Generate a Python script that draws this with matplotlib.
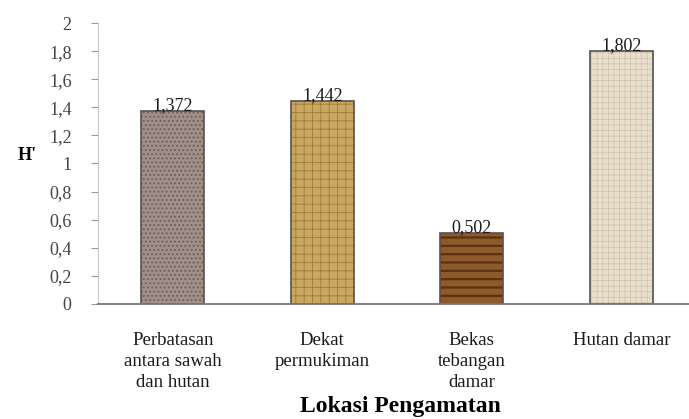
import matplotlib
matplotlib.use("Agg")
import matplotlib.pyplot as plt
import numpy as np

categories = ["Perbatasan\nantara sawah\ndan hutan", "Dekat\npermukiman", "Bekas\ntebangan\ndamar", "Hutan damar"]
values = [1.372, 1.442, 0.502, 1.802]
value_labels = ["1,372", "1,442", "0,502", "1,802"]
yticks = [0, 0.2, 0.4, 0.6, 0.8, 1.0, 1.2, 1.4, 1.6, 1.8, 2.0]
ytick_labels = ["0", "0,2", "0,4", "0,6", "0,8", "1", "1,2", "1,4", "1,6", "1,8", "2"]

face_colors = ["#a09089", "#caa862", "#8f5a2a", "#e9dfcd"]
hatches = ["....", "++", "--", "+++"]
hatch_colors = ["#6a5c55", "#9e7c36", "#5a3212", "#cfc2a8"]
hatch_widths = [0.8, 0.6, 1.6, 0.5]

plt.rcParams["font.family"] = ["Liberation Serif", "DejaVu Serif"]

fig = plt.figure(figsize=(6.89, 4.19), dpi=100)
ax = fig.add_axes([0.1422, 0.2745, 0.868, 0.6706])

x = np.arange(len(categories))
for i in range(len(categories)):
    b = ax.bar(x[i], values[i], width=0.42, color=face_colors[i], edgecolor="#5a5050",
               linewidth=1.2, hatch=hatches[i])
    p = b[0]
    p._hatch_color = matplotlib.colors.to_rgba(hatch_colors[i])
    if hasattr(p, "set_hatch_linewidth"):
        p.set_hatch_linewidth(hatch_widths[i])
    ax.text(x[i], values[i] + 0.008, value_labels[i], ha="center", va="baseline",
            fontsize=13, color="#1a1a1a")

ax.set_xlim(-0.5, len(categories) - 0.5)
ax.set_ylim(0, 2)
ax.set_yticks(yticks)
ax.set_yticklabels(ytick_labels, fontsize=13, color="#444444")
ax.set_xticks(x)
ax.set_xticklabels(categories, fontsize=13.5, color="#1a1a1a", linespacing=1.3)
ax.tick_params(axis="x", length=0, pad=20)
ax.tick_params(axis="y", length=5, width=0.8, color="#999999", pad=14)

for s in ["top", "right"]:
    ax.spines[s].set_visible(False)
ax.spines["left"].set_color("#c8c8c8")
ax.spines["bottom"].set_color("#777777")
ax.spines["bottom"].set_linewidth(1.3)

fig.text(0.039, 0.63, "H'", fontsize=13, fontweight="bold", ha="center", va="center")
fig.text(0.581, 0.029, "Lokasi Pengamatan", fontsize=17, fontweight="bold", ha="center", va="center")

fig.savefig("out.png", dpi=100)
